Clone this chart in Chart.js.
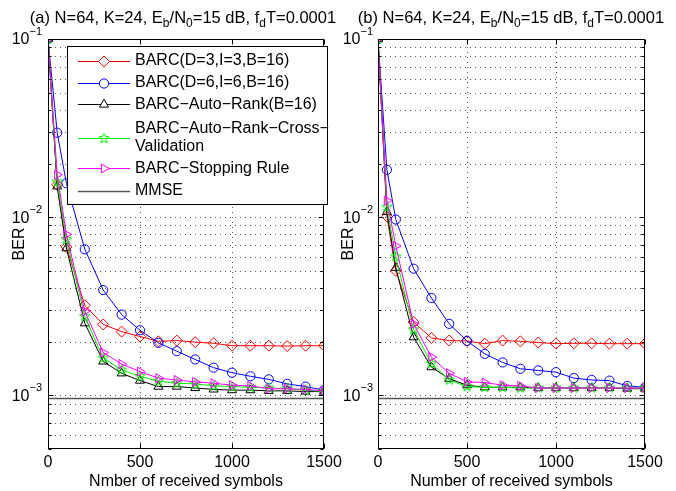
<!DOCTYPE html>
<html><head><meta charset="utf-8">
<script src="https://cdn.jsdelivr.net/npm/chart.js@4/dist/chart.umd.min.js"></script>
<style>
html,body{margin:0;padding:0;background:#fff;}
#wrap{position:relative;width:676px;height:491px;overflow:hidden;background:#fff;font-family:"Liberation Sans",Arial,Helvetica,sans-serif;}
canvas{position:absolute;top:0;left:0;}
.title{position:absolute;top:8px;font-size:16.5px;line-height:18px;white-space:nowrap;transform:translateX(-50%);color:#000;}
.title sub{font-size:12px;line-height:0;vertical-align:-4px;}
</style>
</head><body>
<div id="wrap">
<canvas id="cA" width="676" height="491"></canvas>
<canvas id="cB" width="676" height="491"></canvas>
<div class="title" style="left:183px">(a) N=64, K=24, E<sub>b</sub>/N<sub>0</sub>=15 dB, f<sub>d</sub>T=0.0001</div>
<div class="title" style="left:511px">(b) N=64, K=24, E<sub>b</sub>/N<sub>0</sub>=15 dB, f<sub>d</sub>T=0.0001</div>
</div>
<script>
// ---------- data ----------
const xValues = [0, 50, 100, 200, 300, 400, 500, 600, 700, 800, 900, 1000, 1100, 1200, 1300, 1400, 1500];
const seriesNames = ["BARC(D=3,I=3,B=16)", "BARC(D=6,I=6,B=16)", "BARC\u2212Auto\u2212Rank(B=16)", "BARC\u2212Auto\u2212Rank\u2212Cross\u2212\nValidation", "BARC\u2212Stopping Rule", "MMSE"];
// panel (a)
const barcD3A   = [0.1, 0.0152, 0.0068, 0.0032, 0.0025, 0.00228, 0.00214, 0.00201, 0.00203, 0.00199, 0.00196, 0.0019, 0.0019, 0.0019, 0.00189, 0.0019, 0.0019];
const barcD6A   = [0.1, 0.0298, 0.0155, 0.0066, 0.0039, 0.00284, 0.00232, 0.00197, 0.00177, 0.00159, 0.00143, 0.00134, 0.00128, 0.00123, 0.00116, 0.00112, 0.00107];
const autoRankA = [0.1, 0.0149, 0.0067, 0.00254, 0.00155, 0.00133, 0.00121, 0.00112, 0.00112, 0.0011, 0.00108, 0.00107, 0.00107, 0.00106, 0.00106, 0.00105, 0.00105];
const crossValA = [0.1, 0.0158, 0.0075, 0.00277, 0.00162, 0.00139, 0.00128, 0.0012, 0.00117, 0.00116, 0.00113, 0.00112, 0.00111, 0.0011, 0.00109, 0.00107, 0.00105];
const stopRuleA = [0.1, 0.0173, 0.008, 0.00296, 0.00174, 0.0015, 0.00136, 0.00125, 0.00122, 0.00119, 0.00117, 0.00114, 0.00113, 0.00109, 0.00109, 0.00108, 0.00106];
const mmseA = 9.6e-4;
// panel (b)
const barcD3B   = [0.1, 0.0101, 0.005, 0.00258, 0.0021, 0.00203, 0.00202, 0.00195, 0.00203, 0.00201, 0.00198, 0.00195, 0.00196, 0.00196, 0.00195, 0.00195, 0.00195];
const barcD6B   = [0.1, 0.01845, 0.0097, 0.00514, 0.00352, 0.00252, 0.00202, 0.00171, 0.00153, 0.00141, 0.00138, 0.00135, 0.00125, 0.00122, 0.00121, 0.00113, 0.00111];
const autoRankB = [0.1, 0.0107, 0.0052, 0.00212, 0.00144, 0.00124, 0.00114, 0.00111, 0.00111, 0.00111, 0.0011, 0.0011, 0.0011, 0.0011, 0.0011, 0.00109, 0.00109];
const crossValB = [0.1, 0.0114, 0.006, 0.00234, 0.00151, 0.00122, 0.00112, 0.00111, 0.00111, 0.0011, 0.0011, 0.0011, 0.0011, 0.0011, 0.0011, 0.0011, 0.0011];
const stopRuleB = [0.1, 0.0124, 0.0069, 0.00252, 0.00164, 0.00133, 0.00119, 0.00118, 0.00114, 0.00113, 0.0011, 0.0011, 0.0011, 0.0011, 0.0011, 0.0011, 0.0011];
const mmseB = 9.6e-4;
// ticks
const xTicks = [0, 500, 1000, 1500];
const yTicks = [1e-3, 1e-2, 1e-1];
const yTickExp = ["\u22123", "\u22122", "\u22121"];
const yMin = 5e-4, yMax = 0.1;
const xLabelA = "Nmber of received symbols";
const xLabelB = "Number of received symbols";
const yLabel = "BER";

// ---------- styling ----------
const FONT = '"Liberation Sans", Arial, Helvetica, sans-serif';
function pentagram(color, r) {
  const s = Math.ceil(r * 2 + 4);
  const c = document.createElement('canvas'); c.width = s; c.height = s;
  const g = c.getContext('2d'); g.strokeStyle = color; g.lineWidth = 1; g.beginPath();
  for (let i = 0; i < 10; i++) {
    const a = -Math.PI / 2 + i * Math.PI / 5, rr = (i % 2) ? r * 0.42 : r;
    const px = s / 2 + rr * Math.cos(a), py = s / 2 + rr * Math.sin(a);
    if (i === 0) g.moveTo(px, py); else g.lineTo(px, py);
  }
  g.closePath(); g.stroke(); return c;
}
const starImg = pentagram('#00ee00', 5.5);
const styles = [
  {color: '#ff0000', pointStyle: 'rectRot', radius: 5.5, rotation: 0},
  {color: '#0000ff', pointStyle: 'circle', radius: 4.6, rotation: 0},
  {color: '#000000', pointStyle: 'triangle', radius: 5.2, rotation: 0},
  {color: '#00ee00', pointStyle: starImg, radius: 5.5, rotation: 0},
  {color: '#ff00ff', pointStyle: 'triangle', radius: 5.2, rotation: 90},
  {color: '#555555', pointStyle: false, radius: 0, rotation: 0}
];

function pts(arr) { return xValues.map((x, i) => ({x: x, y: arr[i]})); }
function makeDatasets(list, mmse) {
  const ds = list.map((arr, k) => ({
    label: seriesNames[k], data: pts(arr),
    borderColor: styles[k].color, backgroundColor: 'rgba(0,0,0,0)',
    borderWidth: 1, pointStyle: styles[k].pointStyle, pointRadius: styles[k].radius,
    pointRotation: styles[k].rotation, pointBorderWidth: 1,
    pointBorderColor: styles[k].color, pointBackgroundColor: 'rgba(0,0,0,0)',
    tension: 0, order: 5 - k
  }));
  ds.push({label: seriesNames[5], data: [{x: xTicks[0], y: mmse}, {x: xTicks[xTicks.length - 1], y: mmse}],
    borderColor: styles[5].color, borderWidth: 1.6, pointRadius: 0, tension: 0, order: 6});
  return ds;
}

const axesPlugin = {
  id: 'matlabAxes',
  beforeDatasetsDraw(chart) {
    const {ctx, chartArea: a, scales: {x, y}} = chart;
    ctx.save();
    ctx.strokeStyle = '#555'; ctx.lineWidth = 1; ctx.setLineDash([1, 4]);
    ctx.beginPath();
    for (let e = -4; e <= -1; e++) for (let m = 1; m <= 9; m++) {
      const v = m * Math.pow(10, e);
      if (v < yMin * 0.999 || v > yMax * 1.001) continue;
      const py = Math.round(y.getPixelForValue(v)) + 0.5;
      if (py <= a.top + 1 || py >= a.bottom - 1) continue;
      ctx.moveTo(a.left + 2, py); ctx.lineTo(a.right, py);
    }
    for (const v of xTicks) {
      const px = Math.round(x.getPixelForValue(v)) + 0.5;
      if (px <= a.left + 1 || px >= a.right - 1) continue;
      ctx.moveTo(px, a.bottom - 1); ctx.lineTo(px, a.top);
    }
    ctx.stroke();
    ctx.restore();
  },
  afterDraw(chart, args, opts) {
    const {ctx, chartArea: a, scales: {x, y}} = chart;
    ctx.save();
    ctx.strokeStyle = '#000'; ctx.lineWidth = 1; ctx.setLineDash([]);
    const L = Math.round(a.left) + 0.5, R = Math.round(a.right) - 0.5, T = Math.round(a.top) + 0.5, B = Math.round(a.bottom) - 0.5;
    ctx.strokeRect(L, T, R - L, B - T);
    ctx.beginPath();
    for (let e = -4; e <= -1; e++) for (let m = 1; m <= 9; m++) {
      const v = m * Math.pow(10, e);
      if (v < yMin * 0.999 || v > yMax * 1.001) continue;
      const py = Math.round(y.getPixelForValue(v)) + 0.5;
      const len = m === 1 ? 5 : 3;
      ctx.moveTo(L, py); ctx.lineTo(L + len, py);
      ctx.moveTo(R, py); ctx.lineTo(R - len, py);
    }
    for (const v of xTicks) {
      const px = Math.round(x.getPixelForValue(v)) + 0.5;
      ctx.moveTo(px, B); ctx.lineTo(px, B - 5);
      ctx.moveTo(px, T); ctx.lineTo(px, T + 5);
    }
    ctx.stroke();
    // tick labels
    ctx.fillStyle = '#000';
    ctx.font = '16px ' + FONT; ctx.textAlign = 'center'; ctx.textBaseline = 'middle';
    for (const v of xTicks) ctx.fillText(String(v), x.getPixelForValue(v), a.bottom + 14);
    yTicks.forEach((v, i) => {
      const py = y.getPixelForValue(v);
      ctx.font = '16px ' + FONT; const w1 = ctx.measureText('10').width;
      ctx.font = '11px ' + FONT; const w2 = ctx.measureText(yTickExp[i]).width;
      const x0 = a.left - opts.gap - w1 - w2;
      ctx.textAlign = 'left';
      ctx.font = '16px ' + FONT; ctx.fillText('10', x0, py + 1);
      ctx.font = '11px ' + FONT; ctx.fillText(yTickExp[i], x0 + w1, py - 7);
    });
    // axis titles
    ctx.font = '16px ' + FONT; ctx.textAlign = 'center';
    ctx.fillText(opts.xLabel, (a.left + a.right) / 2, 482);
    ctx.save();
    ctx.translate(opts.yLabelX, (a.top + a.bottom) / 2);
    ctx.rotate(-Math.PI / 2);
    ctx.fillText(yLabel, 0, 0);
    ctx.restore();
    // legend
    if (opts.legend) {
      const lg = opts.legend;
      ctx.fillStyle = '#fff'; ctx.fillRect(lg.x, lg.y, lg.w, lg.h);
      ctx.strokeStyle = '#000'; ctx.lineWidth = 1;
      ctx.strokeRect(lg.x + 0.5, lg.y + 0.5, lg.w - 1, lg.h - 1);
      const rows = [60.7, 82.7, 104.3, 137.5, 168.3, 190.7];
      ctx.font = '16px ' + FONT; ctx.textAlign = 'left'; ctx.textBaseline = 'middle';
      chart.data.datasets.forEach((d, k) => {
        const ry = rows[k];
        ctx.strokeStyle = styles[k].color; ctx.lineWidth = k === 5 ? 1.6 : 1;
        ctx.beginPath(); ctx.moveTo(78, Math.round(ry) + 0.5); ctx.lineTo(130, Math.round(ry) + 0.5); ctx.stroke();
        if (styles[k].pointStyle) {
          ctx.lineWidth = 1; ctx.fillStyle = '#fff';
          Chart.helpers.drawPoint(ctx, {pointStyle: styles[k].pointStyle, radius: styles[k].radius, rotation: styles[k].rotation, borderWidth: 1}, 104, Math.round(ry) + 0.5);
        }
        ctx.fillStyle = '#000';
        const lines = seriesNames[k].split('\n');
        if (lines.length === 1) ctx.fillText(lines[0], 135, ry);
        else { ctx.fillText(lines[0], 135, ry - 9.2); ctx.fillText(lines[1], 135, ry + 9.2); }
      });
    }
    ctx.restore();
  }
};

function makeChart(id, list, mmse, padding, opts) {
  return new Chart(document.getElementById(id), {
    type: 'line',
    data: {datasets: makeDatasets(list, mmse)},
    options: {
      responsive: false, animation: false, maintainAspectRatio: false,
      layout: {padding: padding},
      plugins: {legend: {display: false}, tooltip: {enabled: false}, matlabAxes: opts},
      scales: {
        x: {type: 'linear', min: xTicks[0], max: xTicks[xTicks.length - 1], display: false},
        y: {type: 'logarithmic', min: yMin, max: yMax, display: false}
      }
    },
    plugins: [axesPlugin]
  });
}

makeChart('cA', [barcD3A, barcD6A, autoRankA, crossValA, stopRuleA], mmseA,
  {left: 48, right: 352, top: 39, bottom: 42},
  {gap: 6, xLabel: xLabelA, yLabelX: 20, legend: {x: 67, y: 46, w: 261, h: 159}});
makeChart('cB', [barcD3B, barcD6B, autoRankB, crossValB, stopRuleB], mmseB,
  {left: 378, right: 31, top: 39, bottom: 42},
  {gap: 5, xLabel: xLabelB, yLabelX: 349, legend: null});
</script>
</body></html>
